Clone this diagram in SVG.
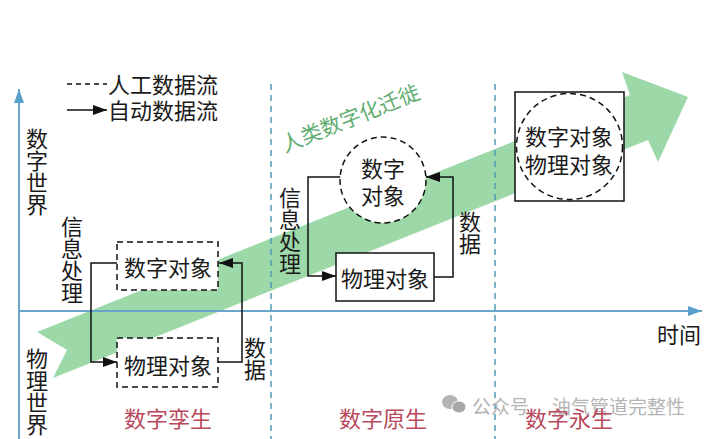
<svg xmlns="http://www.w3.org/2000/svg" width="711" height="439" viewBox="0 0 711 439">
<style>
text{font-family:"Noto Sans CJK SC","Noto Sans",sans-serif;font-size:22px;fill:#1a1a1a;text-anchor:middle;dominant-baseline:central}
.red{fill:#b94a5e}
.wm{fill:#b4b4b4;font-size:19px;text-anchor:start}
.box{fill:#fff;stroke:#111;stroke-width:1.5}
.dash{stroke-dasharray:6 4}
.conn{fill:none;stroke:#111;stroke-width:1.5}
.axis{stroke:#6aa6cc;stroke-width:2;fill:none}
.sep{stroke:#4d9bb2;stroke-width:1.5;stroke-dasharray:6 5}
</style>
<defs>
<marker id="ah" markerUnits="userSpaceOnUse" markerWidth="14" markerHeight="10" refX="14" refY="5" orient="auto"><path d="M0,0 L14,5 L0,10 z" fill="#111"/></marker>
<marker id="ax" markerUnits="userSpaceOnUse" markerWidth="14" markerHeight="10" refX="14" refY="5" orient="auto"><path d="M0,0 L14,5 L0,10 z" fill="#5a9ecc"/></marker>
</defs>
<rect width="711" height="439" fill="#fff"/>
<g id="band">
<polygon points="37,332 630,95 622,72 688,97 658,162 648,140 53,378 67,350" fill="#9dd8a8"/>
<text x="350" y="117" font-size="21" fill="#5fae70" style="fill:#5fae70;font-size:21px" transform="rotate(-21.8 350 117)">人类数字化迁徙</text>
</g>
<g id="axes">
<line class="axis" x1="19" y1="439" x2="19" y2="89" marker-end="url(#ax)"/>
<line class="axis" x1="19" y1="311" x2="702" y2="311" marker-end="url(#ax)"/>
<line class="sep" x1="271" y1="84" x2="271" y2="439"/>
<line class="sep" x1="495" y1="84" x2="495" y2="439"/>
</g>
<g id="legend">
<line x1="67" y1="84" x2="107" y2="84" stroke="#111" stroke-width="1.5" stroke-dasharray="5 4"/>
<text x="108" y="83" style="text-anchor:start">人工数据流</text>
<line x1="67" y1="110" x2="107" y2="110" stroke="#111" stroke-width="1.5" marker-end="url(#ah)"/>
<text x="108" y="109" style="text-anchor:start">自动数据流</text>
</g>
<g id="axis-labels">
<text x="37" y="137">数</text><text x="37" y="159">字</text><text x="37" y="181">世</text><text x="37" y="203">界</text>
<text x="37" y="357">物</text><text x="37" y="379">理</text><text x="37" y="401">世</text><text x="37" y="423">界</text>
<text x="679" y="333">时间</text>
</g>
<g id="watermark">
<ellipse cx="450" cy="402" rx="8" ry="7" fill="#b4b4b4"/>
<ellipse cx="459" cy="407" rx="7" ry="6" fill="#a8a8a8" stroke="#fff" stroke-width="1"/>
<text class="wm" x="472" y="405">公众号</text>
<text class="wm" x="552" y="405">油气管道完整性</text>
</g>
<g id="connectors">
<polyline class="conn" points="117,263 91,263 91,362 117,362" marker-end="url(#ah)"/>
<polyline class="conn" points="218,362 242,362 242,263 219,263" marker-end="url(#ah)"/>
<polyline class="conn" points="341,177 308,177 308,276 336,276" marker-end="url(#ah)"/>
<polyline class="conn" points="434,277 453,277 453,177 426,177" marker-end="url(#ah)"/>
</g>
<g id="twin-digital">
<rect class="box dash" x="117" y="242" width="101" height="48"/>
<text x="168" y="266">数字对象</text>
</g>
<g id="twin-physical">
<rect class="box dash" x="117" y="338" width="101" height="49"/>
<text x="168" y="364">物理对象</text>
</g>
<g id="twin-labels">
<text x="72" y="225">信</text><text x="72" y="247">息</text><text x="72" y="269">处</text><text x="72" y="291">理</text>
<text x="255" y="346">数</text><text x="255" y="368">据</text>
<text class="red" x="168" y="417">数字孪生</text>
</g>
<g id="native-digital">
<circle class="box dash" cx="383" cy="180" r="43"/>
<text x="383" y="167">数字</text>
<text x="383" y="194">对象</text>
</g>
<g id="native-physical">
<rect class="box" x="336" y="253" width="98" height="48"/>
<text x="385" y="277">物理对象</text>
</g>
<g id="native-labels">
<text x="290" y="196">信</text><text x="290" y="218">息</text><text x="290" y="240">处</text><text x="290" y="262">理</text>
<text x="470" y="220">数</text><text x="470" y="242">据</text>
<text class="red" x="383" y="417">数字原生</text>
</g>
<g id="eternal">
<rect class="box" x="515" y="92" width="109" height="109"/>
<circle cx="569.5" cy="146.5" r="53" fill="none" stroke="#111" stroke-width="1.5" stroke-dasharray="6 4"/>
<text x="569" y="135">数字对象</text>
<text x="569" y="163">物理对象</text>
<text class="red" x="569" y="417">数字永生</text>
</g>
</svg>
